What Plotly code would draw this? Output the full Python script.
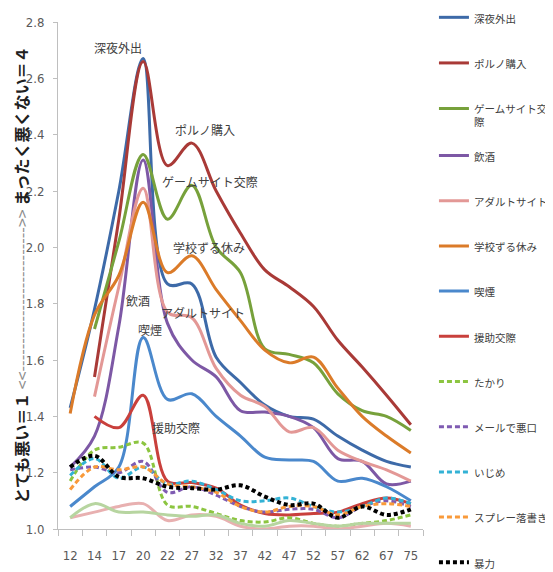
import plotly.graph_objects as go

categories = ["12", "14", "17", "20", "22", "27", "32", "37", "42", "47", "52", "57", "62", "67", "75"]

shinya = [1.43, 1.78, 2.20, 2.67, 1.87, 1.87, 1.61, 1.52, 1.44, 1.40, 1.39, 1.33, 1.28, 1.24, 1.22]
poruno = [None, 1.54, 2.10, 2.66, 2.29, 2.37, 2.20, 2.05, 1.92, 1.86, 1.79, 1.67, 1.575, 1.475, 1.37]
game = [None, 1.71, 2.02, 2.33, 2.10, 2.22, 2.00, 1.91, 1.64, 1.62, 1.59, 1.48, 1.42, 1.40, 1.35]
inshu = [1.22, 1.33, 1.72, 2.31, 1.73, 1.60, 1.54, 1.42, 1.415, 1.40, 1.36, 1.25, 1.24, 1.16, 1.17]
adult = [None, 1.47, 1.86, 2.21, 1.77, 1.75, 1.57, 1.475, 1.435, 1.345, 1.36, 1.28, 1.24, 1.21, 1.17]
zuruyasumi = [1.41, 1.76, 1.90, 2.16, 1.91, 1.97, 1.85, 1.74, 1.635, 1.59, 1.61, 1.50, 1.40, 1.33, 1.27]
kitsuen = [1.08, 1.15, 1.22, 1.68, 1.46, 1.48, 1.40, 1.33, 1.255, 1.245, 1.24, 1.17, 1.18, 1.15, 1.10]
enjo = [None, 1.40, 1.36, 1.475, 1.17, 1.165, 1.145, 1.085, 1.055, 1.05, 1.055, 1.06, 1.09, 1.11, 1.09]
takari = [1.17, 1.28, 1.29, 1.305, 1.085, 1.08, 1.055, 1.03, 1.025, 1.04, 1.02, 1.01, 1.02, 1.03, 1.05]
mail = [1.21, 1.22, 1.20, 1.24, 1.13, 1.15, 1.12, 1.08, 1.06, 1.07, 1.07, 1.04, 1.08, 1.10, 1.08]
ijime = [1.19, 1.25, 1.18, 1.22, 1.16, 1.17, 1.14, 1.10, 1.10, 1.11, 1.08, 1.06, 1.08, 1.11, 1.09]
spray = [1.14, 1.22, 1.21, 1.22, 1.16, 1.15, 1.13, 1.08, 1.06, 1.08, 1.08, 1.05, 1.08, 1.09, 1.08]
bouryoku = [1.22, 1.26, 1.185, 1.18, 1.15, 1.145, 1.14, 1.155, 1.115, 1.085, 1.09, 1.04, 1.08, 1.05, 1.07]
extra_pink = [1.04, 1.06, 1.08, 1.09, 1.03, 1.05, 1.045, 1.01, 1.00, 1.01, 1.01, 1.00, 1.01, 1.02, 1.01]
extra_green = [1.04, 1.09, 1.06, 1.06, 1.05, 1.045, 1.05, 1.02, 1.01, 1.03, 1.02, 1.01, 1.02, 1.02, 1.02]

series = [
    ("深夜外出", shinya, "#3D6AA8", None, 3, "legend", True),
    ("ポルノ購入", poruno, "#A93A37", None, 3, "legend", True),
    ("ゲームサイト交<br>際", game, "#77A13B", None, 3, "legend", True),
    ("飲酒", inshu, "#7D58A5", None, 3, "legend2", True),
    ("アダルトサイト", adult, "#E39896", None, 3, "legend2", True),
    ("学校ずる休み", zuruyasumi, "#DB7B29", None, 3, "legend2", True),
    ("喫煙", kitsuen, "#4A88CC", None, 3, "legend2", True),
    ("援助交際", enjo, "#C9403C", None, 3, "legend2", True),
    ("たかり", takari, "#8CC540", "5px,3px", 3, "legend2", True),
    ("メールで悪口", mail, "#7F5BB2", "5px,3px", 3, "legend2", True),
    ("いじめ", ijime, "#33B2D5", "5px,3px", 3, "legend2", True),
    ("スプレー落書き", spray, "#F99A3A", "5px,3px", 3, "legend2", True),
    ("暴力", bouryoku, "#000000", "4px,3px", 4, "legend2", True),
    ("その他A", extra_pink, "#E8B0B0", None, 3, "legend2", False),
    ("その他B", extra_green, "#B7D5A0", None, 3, "legend2", False),
]

fig = go.Figure()
for name, vals, color, dash, w, leg, show in series:
    fig.add_trace(go.Scatter(
        x=categories, y=vals, name=name, mode="lines",
        line=dict(color=color, width=w, dash=dash, shape="spline", smoothing=1.0),
        legend=leg, legendgroup=name, showlegend=show, connectgaps=False,
    ))

label_font = dict(family="Noto Sans CJK JP", size=12, color="#404040")
labels = [
    ("深夜外出", 1.97, 2.71),
    ("ポルノ購入", 5.53, 2.42),
    ("ゲームサイト交際", 5.74, 2.235),
    ("学校ずる休み", 5.7, 2.00),
    ("飲酒", 2.8, 1.81),
    ("アダルトサイト", 5.45, 1.77),
    ("喫煙", 3.3, 1.71),
    ("援助交際", 4.34, 1.36),
]
for text, xi, yv in labels:
    fig.add_annotation(x=xi, y=yv, xref="x", yref="y", text=text, showarrow=False, font=label_font)

fig.add_annotation(
    x=-0.104, y=0.5, xref="paper", yref="paper", xanchor="center", yanchor="middle",
    textangle=-90, showarrow=False,
    text="<b>とても悪い＝１</b> <span style='color:#8C8C8C'>&lt;&lt;--------------------------&gt;&gt;</span> <b>まったく悪くない＝４</b>",
    font=dict(family="Noto Sans CJK JP", size=16, color="#202020"),
)

tick_font = dict(family="Liberation Sans Narrow, DejaVu Sans Condensed, Arial Narrow, sans-serif", size=13, color="#595959")
legend_font = dict(family="Noto Sans CJK JP", size=10.5, color="#404040")

fig.update_layout(
    width=545, height=564,
    margin=dict(l=50, r=130, t=14, b=43, autoexpand=False),
    paper_bgcolor="white", plot_bgcolor="white",
    xaxis=dict(type="category", range=[-0.5, 14.5], tickson="boundaries", ticks="outside",
               ticklen=6, tickcolor="#BFBFBF", showline=True, linecolor="#BFBFBF", linewidth=1,
               showgrid=False, tickfont=tick_font, ticklabelstandoff=14),
    yaxis=dict(range=[1.0, 2.8], dtick=0.2, tickformat=".1f", ticks="outside", ticklen=4,
               tickcolor="#BFBFBF", showline=True, linecolor="#BFBFBF", linewidth=1,
               showgrid=False, zeroline=False, tickfont=tick_font, ticklabelstandoff=6),
    legend=dict(x=1.030, y=1.0355, xanchor="left", yanchor="top", font=legend_font,
                tracegroupgap=26.6, valign="top", maxheight=800, bgcolor="rgba(0,0,0,0)"),
    legend2=dict(x=1.030, y=0.763, xanchor="left", yanchor="top", font=legend_font,
                 tracegroupgap=26.2, valign="top", maxheight=800, bgcolor="rgba(0,0,0,0)"),
    showlegend=True,
)

fig.write_html("out.html")
